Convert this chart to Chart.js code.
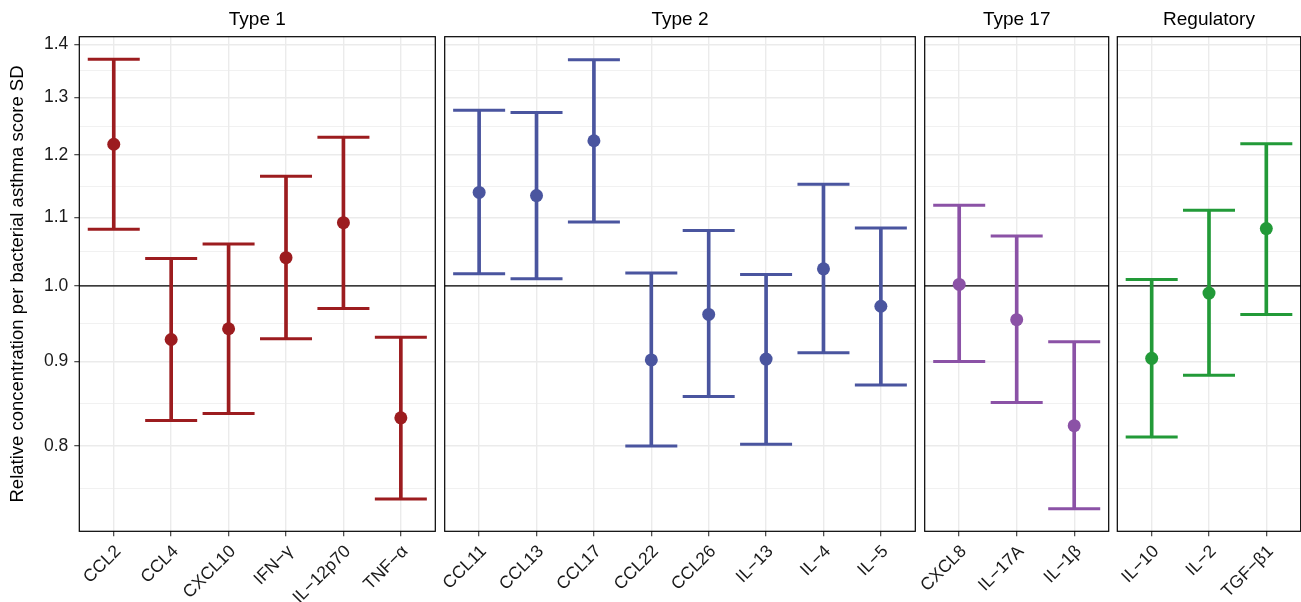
<!DOCTYPE html>
<html>
<head>
<meta charset="utf-8">
<title>Cytokine concentration per bacterial asthma score SD</title>
<script src="https://cdn.jsdelivr.net/npm/chart.js@4.4.1/dist/chart.umd.min.js"></script>
<style>
  html, body { margin: 0; padding: 0; background: #fff; }
  #wrap { position: relative; width: 1301px; height: 602px; overflow: hidden; }
  .panel { position: absolute; top: 0; height: 602px; }
</style>
</head>
<body>
<div id="wrap">
  <div class="panel" style="left:0px;width:445px"><canvas id="type1"></canvas></div>
  <div class="panel" style="left:400px;width:530px"><canvas id="type2"></canvas></div>
  <div class="panel" style="left:880px;width:240px"><canvas id="type17"></canvas></div>
  <div class="panel" style="left:1080px;width:221px"><canvas id="regulatory"></canvas></div>
</div>
<script>
// values (estimate, lower and upper CI)
const type1Labels = ['CCL2', 'CCL4', 'CXCL10', 'IFN\u2212\u03b3', 'IL\u221212p70', 'TNF\u2212\u03b1'];
const type1Est = [1.218, 0.928, 0.942, 1.040, 1.092, 0.832];
const type1Lo = [1.082, 0.829, 0.837, 0.929, 0.969, 0.743];
const type1Hi = [1.371, 1.039, 1.060, 1.165, 1.230, 0.931];

const type2Labels = ['CCL11', 'CCL13', 'CCL17', 'CCL22', 'CCL26', 'IL\u221213', 'IL\u22124', 'IL\u22125'];
const type2Est = [1.139, 1.134, 1.224, 0.902, 0.961, 0.903, 1.024, 0.972];
const type2Lo = [1.017, 1.010, 1.093, 0.800, 0.857, 0.802, 0.911, 0.871];
const type2Hi = [1.277, 1.273, 1.370, 1.018, 1.080, 1.016, 1.152, 1.084];

const type17Labels = ['CXCL8', 'IL\u221217A', 'IL\u22121\u03b2'];
const type17Est = [1.002, 0.954, 0.823];
const type17Lo = [0.900, 0.850, 0.733];
const type17Hi = [1.119, 1.072, 0.925];

const regLabels = ['IL\u221210', 'IL\u22122', 'TGF\u2212\u03b21'];
const regEst = [0.904, 0.990, 1.083];
const regLo = [0.810, 0.883, 0.961];
const regHi = [1.009, 1.111, 1.219];

const majorTicks = [0.8, 0.9, 1.0, 1.1, 1.2, 1.3, 1.4];
const refLine = 1.0;
const yMin = 0.7104;
const yMax = 1.4149;

// minor grid lines halfway between majors on the log scale
const minorTicks = [majorTicks[0] / Math.sqrt(majorTicks[1] / majorTicks[0])];
for (let i = 0; i < majorTicks.length - 1; i++) {
    minorTicks.push(Math.sqrt(majorTicks[i] * majorTicks[i + 1]));
}
const allTicks = majorTicks.concat(minorTicks).sort((a, b) => a - b);
const isMajor = v => majorTicks.includes(v);

Chart.defaults.font.family = '"Liberation Sans", Arial, Helvetica, sans-serif';
Chart.defaults.color = '#1a1a1a';

const panelFrame = {
    id: 'panelFrame',
    beforeDatasetsDraw(chart) {
        const { ctx, chartArea: a } = chart;
        const yy = chart.scales.y.getPixelForValue(refLine);
        ctx.save();
        ctx.strokeStyle = '#000';
        ctx.lineWidth = 1.2;
        ctx.beginPath();
        ctx.moveTo(a.left, yy);
        ctx.lineTo(a.right, yy);
        ctx.stroke();
        ctx.restore();
    },
    afterDraw(chart) {
        const { ctx, chartArea: a } = chart;
        ctx.save();
        ctx.strokeStyle = '#000';
        ctx.lineWidth = 1.2;
        ctx.strokeRect(a.left, a.top, a.right - a.left, a.bottom - a.top);
        ctx.restore();
    }
};

function makePanel(id, p) {
    const idx = p.labels.map((_, i) => i);
    return new Chart(document.getElementById(id), {
        type: 'bar',
        data: {
            datasets: [
                {
                    type: 'scatter',
                    data: idx.map(i => ({ x: i, y: p.est[i] })),
                    pointRadius: 6.5,
                    pointBackgroundColor: p.color,
                    pointBorderWidth: 0
                },
                {
                    type: 'scatter',
                    data: idx.flatMap(i => [{ x: i, y: p.lo[i] }, { x: i, y: p.hi[i] }]),
                    pointStyle: 'line',
                    pointRadius: 26,
                    pointBorderColor: p.color,
                    pointBorderWidth: 3
                },
                {
                    type: 'bar',
                    data: idx.map(i => ({ x: i, y: [p.lo[i], p.hi[i]] })),
                    backgroundColor: p.color,
                    borderWidth: 0,
                    barThickness: 3
                }
            ]
        },
        options: {
            responsive: true,
            maintainAspectRatio: false,
            animation: false,
            events: [],
            layout: {
                autoPadding: false,
                padding: { left: p.padLeft, right: p.padRight, top: 0, bottom: 0 }
            },
            plugins: {
                legend: { display: false },
                tooltip: { enabled: false },
                title: {
                    display: true,
                    text: p.title,
                    fullSize: false,
                    color: '#000',
                    font: { size: 19, weight: 'normal' },
                    padding: { top: 8.3, bottom: 5.6 }
                }
            },
            scales: {
                x: {
                    type: 'linear',
                    min: -0.6,
                    max: p.labels.length - 0.4,
                    bounds: 'data',
                    offset: false,
                    afterBuildTicks: s => { s.ticks = idx.map(i => ({ value: i })); },
                    afterFit: s => {
                        s.height = 70.7;
                        s.paddingLeft = 0;
                        s.paddingRight = 0;
                    },
                    ticks: {
                        autoSkip: false,
                        minRotation: 45,
                        maxRotation: 45,
                        padding: 5,
                        labelOffset: 4.5,
                        color: '#1a1a1a',
                        font: { size: 17.5 },
                        callback: v => p.labels[v]
                    },
                    grid: {
                        offset: false,
                        color: '#EBEBEB',
                        lineWidth: 1.4,
                        tickLength: 5,
                        tickColor: '#333',
                        tickWidth: 1.1
                    },
                    border: { display: false }
                },
                y: {
                    type: 'logarithmic',
                    min: yMin,
                    max: yMax,
                    bounds: 'data',
                    beginAtZero: false,
                    afterBuildTicks: s => { s.ticks = allTicks.map(v => ({ value: v })); },
                    afterFit: s => {
                        s.width = p.first ? 79.3 : 0;
                        s.paddingTop = 0;
                        s.paddingBottom = 0;
                    },
                    ticks: {
                        display: p.first,
                        autoSkip: false,
                        padding: 6,
                        color: '#1a1a1a',
                        font: { size: 17.5 },
                        callback: v => isMajor(v) ? v.toFixed(1) : ''
                    },
                    grid: {
                        color: '#EBEBEB',
                        lineWidth: c => (c.tick && isMajor(c.tick.value)) ? 1.4 : 0.7,
                        drawTicks: p.first,
                        tickLength: 5,
                        tickColor: c => (c.tick && isMajor(c.tick.value)) ? '#333' : 'rgba(0,0,0,0)',
                        tickWidth: 1.1
                    },
                    border: { display: false },
                    title: {
                        display: p.first,
                        text: 'Relative concentration per bacterial asthma score SD',
                        color: '#000',
                        font: { size: 18.5 },
                        padding: { top: 7, bottom: 0 }
                    }
                }
            }
        },
        plugins: [panelFrame]
    });
}

makePanel('type1', {
    title: 'Type 1', labels: type1Labels, est: type1Est, lo: type1Lo, hi: type1Hi,
    color: '#9C1C1F', first: true, padLeft: 0, padRight: 9.7
});
makePanel('type2', {
    title: 'Type 2', labels: type2Labels, est: type2Est, lo: type2Lo, hi: type2Hi,
    color: '#4A559F', first: false, padLeft: 44.7, padRight: 14.7
});
makePanel('type17', {
    title: 'Type 17', labels: type17Labels, est: type17Est, lo: type17Lo, hi: type17Hi,
    color: '#8B52A6', first: false, padLeft: 44.7, padRight: 11.3
});
makePanel('regulatory', {
    title: 'Regulatory', labels: regLabels, est: regEst, lo: regLo, hi: regHi,
    color: '#229A38', first: false, padLeft: 37.3, padRight: 0.3
});
</script>
</body>
</html>
